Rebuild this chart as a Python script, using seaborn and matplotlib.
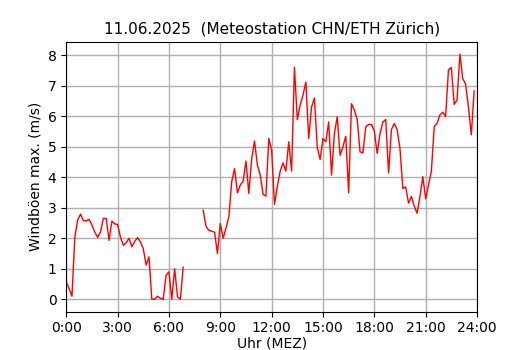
import numpy as np
import pandas as pd
import matplotlib
matplotlib.use("Agg")
import matplotlib.pyplot as plt
import seaborn as sns

# 10-minute observations, 0:00 .. 23:50 (NaN = missing data)
gusts_00_04 = [0.57, 0.35, 0.10, 2.03, 2.60, 2.79, 2.58, 2.57, 2.62, 2.43, 2.20, 2.03,
               2.20, 2.65, 2.65, 1.93, 2.56, 2.47, 2.45, 2.04, 1.77, 1.85, 2.00, 1.72, 1.90]
gusts_04_07 = [2.02, 1.88, 1.66, 1.12, 1.39, 0.0, 0.0, 0.10, 0.03, 0.0, 0.79, 0.90,
               0.0, 1.00, 0.08, 0.0, 1.05]
gusts_07_08 = [np.nan] * 6
gusts_08_12 = [2.92, 2.39, 2.26, 2.23, 2.20, 1.50, 2.48, 2.00, 2.33, 2.70, 3.85, 4.28,
               3.49, 3.74, 3.87, 4.53, 3.47, 4.60, 5.19, 4.40, 4.07, 3.44, 3.38, 5.27]
gusts_12_16 = [4.89, 3.11, 3.70, 4.20, 4.47, 4.20, 5.16, 4.20, 7.60, 5.89, 6.36, 6.69,
               7.12, 5.27, 6.30, 6.60, 4.97, 4.58, 5.27, 5.16, 5.81, 4.07, 5.43, 5.98]
gusts_16_20 = [4.72, 5.00, 5.34, 3.49, 6.41, 6.20, 5.89, 4.83, 4.80, 5.65, 5.73, 5.73,
               5.52, 4.78, 5.43, 5.81, 5.89, 4.14, 5.56, 5.76, 5.56, 4.94, 3.63, 3.68]
gusts_20_24 = [3.15, 3.37, 3.05, 2.82, 3.37, 4.02, 3.29, 3.75, 4.19, 5.66, 5.77, 6.04,
               6.13, 5.99, 7.52, 7.60, 6.39, 6.53, 8.03, 7.24, 7.05, 6.30, 5.39, 6.83]

gusts = (gusts_00_04 + gusts_04_07 + gusts_07_08 + gusts_08_12 +
         gusts_12_16 + gusts_16_20 + gusts_20_24)
hours = np.arange(len(gusts)) / 6.0  # time of day in hours (10-min steps)

tick_hours = [0, 3, 6, 9, 12, 15, 18, 21, 24]
tick_labels = ["0:00", "3:00", "6:00", "9:00", "12:00", "15:00", "18:00", "21:00", "24:00"]
y_ticks = [0, 1, 2, 3, 4, 5, 6, 7, 8]

title = "11.06.2025  (Meteostation CHN/ETH Zürich)"
xlabel = "Uhr (MEZ)"
ylabel = "Windböen max. (m/s)"

df = pd.DataFrame({"hour": hours, "gust": gusts})
# split into contiguous segments so the gap stays a gap
df["seg"] = df["gust"].isna().cumsum()
df = df.dropna()

fig, ax = plt.subplots(figsize=(5.3, 3.5), dpi=100)
for _, part in df.groupby("seg"):
    sns.lineplot(data=part, x="hour", y="gust", ax=ax, color="red",
                 linewidth=1.0, estimator=None, sort=False)

ax.set_xlim(0, 24)
ax.set_xticks(tick_hours)
ax.set_xticklabels(tick_labels)
ax.set_yticks(y_ticks)
ax.grid(True, color="#b0b0b0", linewidth=1.0)
ax.set_axisbelow(True)
ax.set_title(title, fontsize=11)
ax.set_xlabel(xlabel, labelpad=1)
ax.set_ylabel(ylabel)

fig.savefig("out.png", dpi=100)
